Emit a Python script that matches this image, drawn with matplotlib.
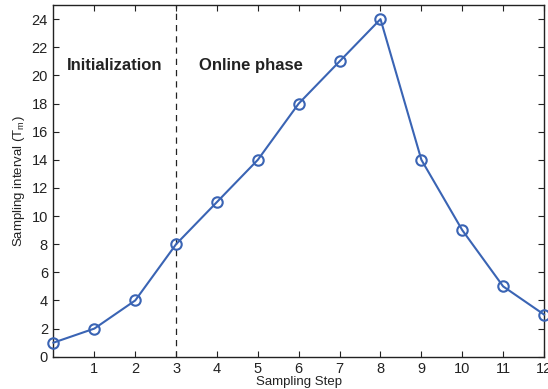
import matplotlib
matplotlib.use("Agg")
import matplotlib.pyplot as plt

# Sampling step vs. sampling interval
steps = [0, 1, 2, 3, 4, 5, 6, 7, 8, 9, 10, 11, 12]
intervals = [1, 2, 4, 8, 11, 14, 18, 21, 24, 14, 9, 5, 3]
x_ticks = list(range(1, 13))
y_ticks = list(range(0, 25, 2))
phase_boundary = 3

plt.rcParams['font.family'] = ['Liberation Sans', 'DejaVu Sans']
plt.rcParams['mathtext.fontset'] = 'custom'
plt.rcParams['mathtext.rm'] = 'Liberation Sans'
plt.rcParams['mathtext.it'] = 'Liberation Sans:italic'

fig = plt.figure(figsize=(5.48, 3.89), dpi=100)
ax = fig.add_axes([0.0976, 0.083, 0.8951, 0.904])

color = '#3a64b4'
ax.plot(steps, intervals, '-o', color=color, lw=1.5, ms=7.5,
        mfc='none', mec=color, mew=1.5, clip_on=False, zorder=3)
ax.axvline(phase_boundary, color='#222222', lw=0.9, ls=(0, (5, 4)))

ax.text(1.5, 20.7, 'Initialization', fontsize=12, fontweight='bold',
        ha='center', va='center', color='#222222')
ax.text(4.83, 20.7, 'Online phase', fontsize=12, fontweight='bold',
        ha='center', va='center', color='#222222')

ax.set_xlim(0, 12)
ax.set_ylim(0, 25)
ax.set_xticks(x_ticks)
ax.set_yticks(y_ticks)
ax.tick_params(direction='in', top=True, right=True, length=4, width=0.8,
               labelsize=10.5, colors='#222222', pad=4)
for s in ax.spines.values():
    s.set_linewidth(1.0)
    s.set_color('#222222')

ax.set_xlabel('Sampling Step', fontsize=9.5, labelpad=0, color='#222222')
ax.set_ylabel('Sampling interval (T$_{\\mathrm{m}}$)', fontsize=9.5, labelpad=3,
              color='#222222')

fig.savefig('out.png', dpi=100)
